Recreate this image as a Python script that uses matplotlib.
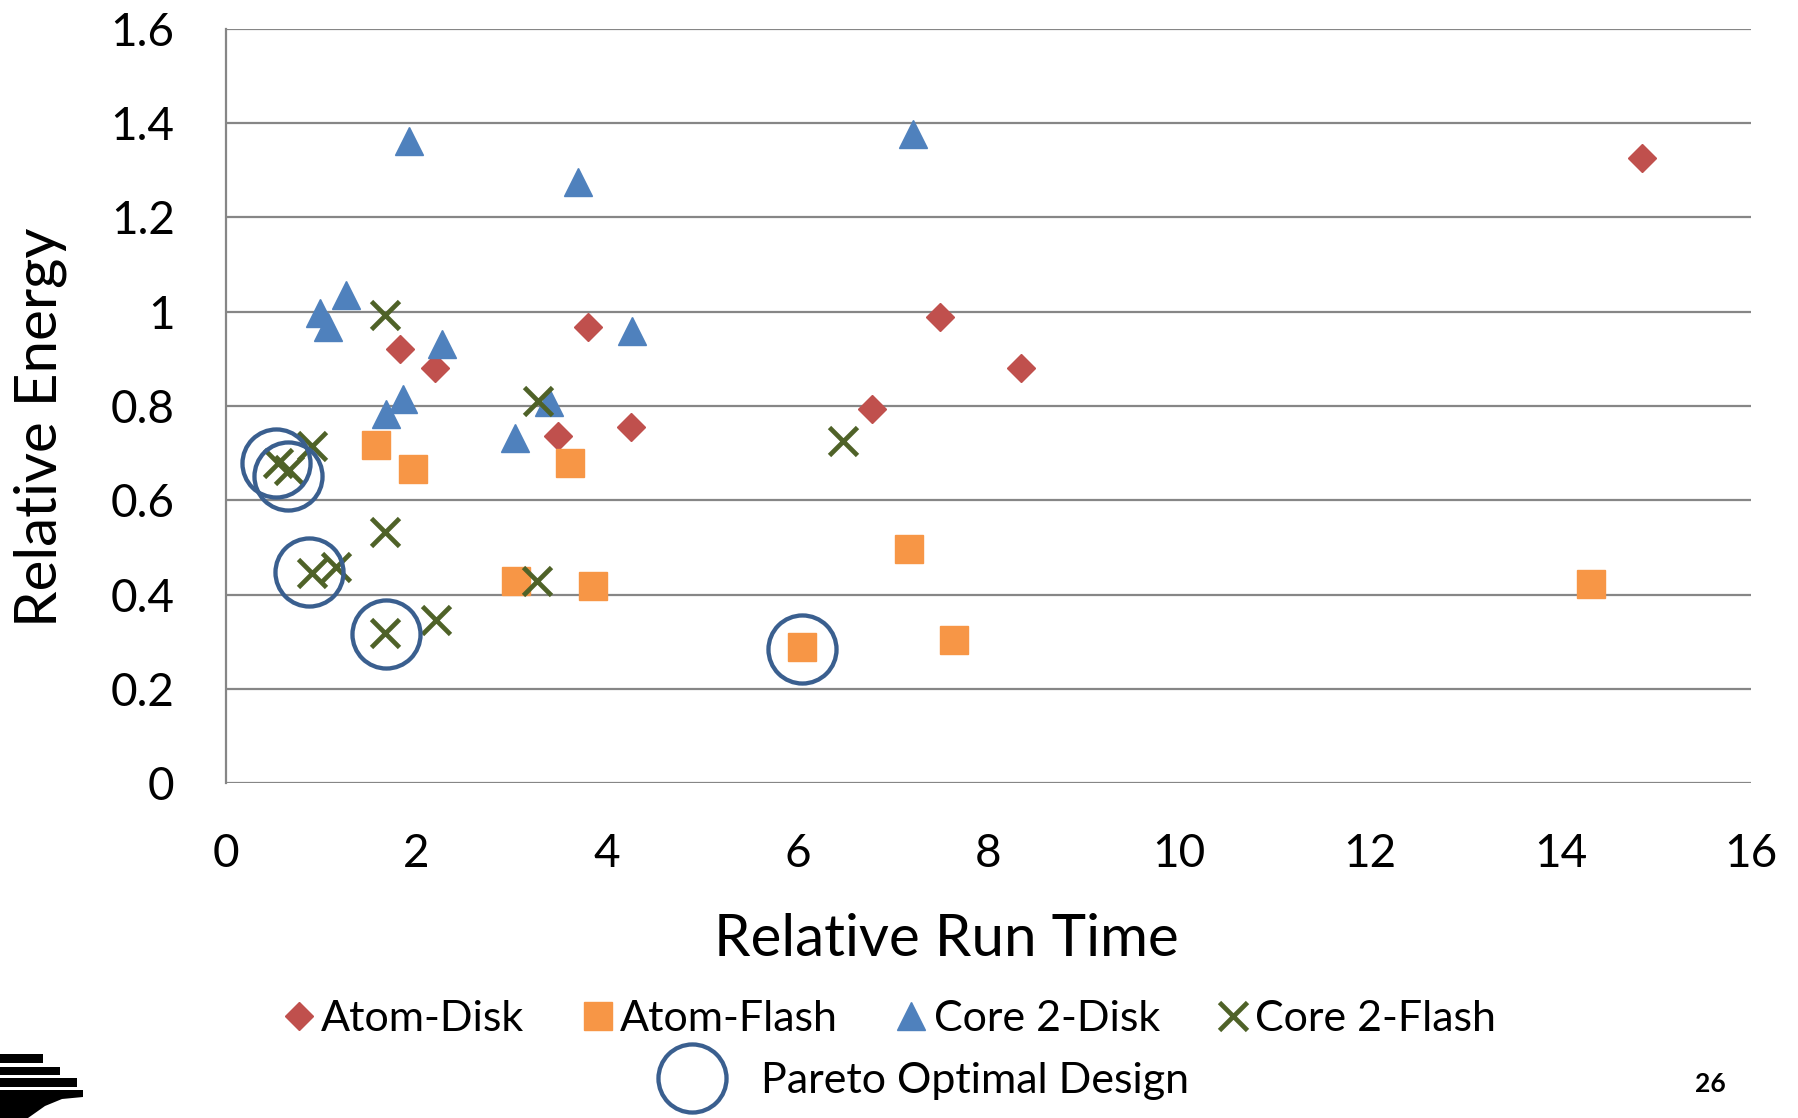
import matplotlib
matplotlib.use("Agg")
import matplotlib.pyplot as plt
from matplotlib.patches import Rectangle, Polygon

plt.rcParams['font.family'] = ['Lato', 'DejaVu Sans']

# ---- data ----
atom_disk_x = [1.83, 2.19, 3.80, 3.48, 4.25, 6.78, 7.49, 8.34, 14.86]
atom_disk_y = [0.921, 0.880, 0.967, 0.736, 0.756, 0.793, 0.988, 0.881, 1.326]

atom_flash_x = [1.57, 1.96, 3.61, 3.04, 3.85, 6.04, 7.17, 7.64, 14.32]
atom_flash_y = [0.717, 0.667, 0.680, 0.429, 0.419, 0.289, 0.496, 0.304, 0.422]

core2_disk_x = [1.92, 3.69, 7.21, 1.26, 0.99, 1.07, 2.27, 4.26, 1.86, 1.68, 3.39, 3.03]
core2_disk_y = [1.361, 1.275, 1.377, 1.035, 0.998, 0.968, 0.931, 0.960, 0.814, 0.782, 0.808, 0.733]

core2_flash_x = [1.67, 3.27, 6.47, 0.90, 0.547, 0.664, 1.67, 0.898, 1.156, 1.67, 2.20, 3.26]
core2_flash_y = [0.992, 0.810, 0.726, 0.716, 0.678, 0.664, 0.533, 0.446, 0.459, 0.318, 0.346, 0.429]

pareto_x = [0.524, 0.65, 0.875, 1.675, 6.04]
pareto_y = [0.678, 0.652, 0.448, 0.316, 0.284]

x_ticks = [0, 2, 4, 6, 8, 10, 12, 14, 16]
y_ticks = [0, 0.2, 0.4, 0.6, 0.8, 1.0, 1.2, 1.4, 1.6]
y_tick_labels = ["0", "0.2", "0.4", "0.6", "0.8", "1", "1.2", "1.4", "1.6"]

series_labels = ["Atom-Disk", "Atom-Flash", "Core 2-Disk", "Core 2-Flash"]
pareto_label = "Pareto Optimal Design"
x_label = "Relative Run Time"
y_label = "Relative Energy"
page_number = "26"

# ---- styles ----
C_DIAMOND = "#C0504D"
C_SQUARE = "#F79646"
C_TRI = "#4F81BD"
C_X = "#4F6228"
C_CIRCLE = "#3A5F8F"
GRID = "#868686"

W, H = 1798, 1118
AX_L, AX_R, AX_B, AX_T = 226, 1751, 783.2, 28.7
fig = plt.figure(figsize=(W / 100, H / 100), dpi=100)
ax = fig.add_axes([AX_L / W, 1 - AX_B / H, (AX_R - AX_L) / W, (AX_B - AX_T) / H])

ax.set_xlim(0, 16)
ax.set_ylim(0, 1.6)
ax.set_xticks(x_ticks)
ax.set_yticks(y_ticks)
ax.set_yticklabels(y_tick_labels)
ax.tick_params(axis='both', length=0, labelsize=33)
ax.tick_params(axis='y', pad=37)
ax.tick_params(axis='x', pad=36)
ax.grid(axis='y', color=GRID, linewidth=1.6)
ax.set_axisbelow(True)
for s in ["top", "right", "bottom"]:
    ax.spines[s].set_visible(False)
ax.spines["left"].set_color(GRID)
ax.spines["left"].set_linewidth(1.6)

kw = dict(linestyle='none')
h1, = ax.plot(atom_disk_x, atom_disk_y, marker='D', ms=14.5, color=C_DIAMOND, mec=C_DIAMOND, **kw)
h2, = ax.plot(atom_flash_x, atom_flash_y, marker='s', ms=20, color=C_SQUARE, mec=C_SQUARE, **kw)
h3, = ax.plot(core2_disk_x, core2_disk_y, marker='^', ms=20, color=C_TRI, mec=C_TRI, **kw)
h4, = ax.plot(core2_flash_x, core2_flash_y, marker='x', ms=20, mew=3.4, color=C_X, **kw)
h5, = ax.plot(pareto_x, pareto_y, marker='o', ms=49, mfc='none', mec=C_CIRCLE, mew=3.1, **kw)

ax.set_xlabel(x_label, fontsize=42, labelpad=0)
ax.xaxis.set_label_coords((946 - AX_L) / (AX_R - AX_L), (AX_B - 940) / (AX_B - AX_T),
                          transform=ax.transAxes)
ax.xaxis.label.set_va('center')
ax.set_ylabel(y_label, fontsize=42)
ax.yaxis.set_label_coords((40 - AX_L) / (AX_R - AX_L), (AX_B - 427) / (AX_B - AX_T),
                          transform=ax.transAxes)
ax.yaxis.label.set_va('center')

fig.legend([h1, h2, h3, h4], series_labels, loc='center', ncol=4,
           bbox_to_anchor=(889 / W, 1 - 1019 / H), frameon=False,
           fontsize=31, handlelength=0.8, handletextpad=0.12,
           columnspacing=1.3, borderpad=0, borderaxespad=0)
fig.legend([h5], [pareto_label], loc='center',
           bbox_to_anchor=(924 / W, 1 - 1081 / H), frameon=False,
           fontsize=31, handlelength=1.5, handletextpad=0.85,
           borderpad=0, borderaxespad=0)

fig.text(1710 / W, 1 - 1084 / H, page_number, fontsize=19, fontweight='bold',
         ha='center', va='center')

# decorative logo fragment (bottom-left)
def px_rect(x0, y0, x1, y1):
    return Rectangle((x0 / W, 1 - y1 / H), (x1 - x0) / W, (y1 - y0) / H,
                     transform=fig.transFigure, color='black', lw=0)
for r in [(0, 1054, 43, 1063), (0, 1067, 60, 1075), (0, 1078, 77, 1087)]:
    fig.add_artist(px_rect(*r))
poly = [(0, 1090), (83, 1090), (83, 1097), (62, 1099), (45, 1106), (28, 1118), (0, 1118)]
fig.add_artist(Polygon([(x / W, 1 - y / H) for x, y in poly], closed=True,
                       transform=fig.transFigure, color='black', lw=0))

fig.savefig("out.png", dpi=100)
